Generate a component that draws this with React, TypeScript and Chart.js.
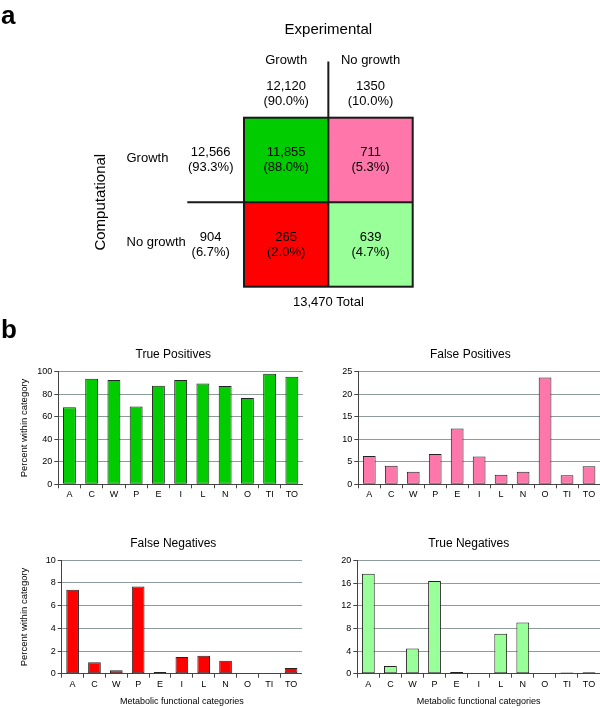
import React, { useEffect, useRef } from 'react';
import { Chart, registerables } from 'chart.js';

Chart.register(...registerables);

const FONT = '"Liberation Sans", Arial, Helvetica, sans-serif';
Chart.defaults.font.family = FONT;

// ---------- Panel a data ----------
const EXPERIMENTAL_COLS = ['Growth', 'No growth'];
const COMPUTATIONAL_ROWS = ['Growth', 'No growth'];
const COL_TOTALS = ['12,120', '1350'];
const COL_PCTS = ['(90.0%)', '(10.0%)'];
const ROW_TOTALS = ['12,566', '904'];
const ROW_PCTS = ['(93.3%)', '(6.7%)'];
const GROWTH_ROW_CELLS = ['11,855', '711'];
const GROWTH_ROW_PCTS = ['(88.0%)', '(5.3%)'];
const NOGROWTH_ROW_CELLS = ['265', '639'];
const NOGROWTH_ROW_PCTS = ['(2.0%)', '(4.7%)'];
const TOTAL_LABEL = '13,470 Total';

// ---------- Panel b data ----------
const CATEGORIES = ['A', 'C', 'W', 'P', 'E', 'I', 'L', 'N', 'O', 'TI', 'TO'];
const TRUE_POSITIVES = [68.5, 93.8, 92.6, 69.2, 87.6, 92.6, 89.6, 87.3, 76.6, 98.2, 95.6];
const FALSE_POSITIVES = [6.3, 4.1, 2.8, 6.7, 12.4, 6.2, 2.1, 2.8, 23.7, 2.0, 4.0];
const FALSE_NEGATIVES = [7.4, 1.0, 0.3, 7.7, 0.15, 1.47, 1.59, 1.15, 0, 0, 0.5];
const TRUE_NEGATIVES = [17.7, 1.36, 4.48, 16.4, 0.3, 0, 7.08, 9.08, 0, 0.2, 0.25];

const TP_AXIS = { max: 100, step: 20 };
const FP_AXIS = { max: 25, step: 5 };
const FN_AXIS = { max: 10, step: 2 };
const TN_AXIS = { max: 20, step: 4 };

const GREEN = '#00cc00';
const PINK = '#ff77aa';
const RED = '#ff0000';
const LIGHT_GREEN = '#99ff99';

const matrixPlugin = {
  id: 'matrixText',
  afterDatasetsDraw(chart: any) {
    const { ctx, chartArea: a } = chart;
    const bottomMeta = chart.getDatasetMeta(0);
    const topMeta = chart.getDatasetMeta(1);
    const colX: number[] = topMeta.data.map((b: any) => b.x);
    const rowY: number[] = [
      (topMeta.data[0].y + topMeta.data[0].base) / 2,
      (bottomMeta.data[0].y + bottomMeta.data[0].base) / 2,
    ];
    const midX = (a.left + a.right) / 2;
    const midY = chart.scales.y.getPixelForValue(1);

    ctx.save();
    ctx.strokeStyle = '#1a1a1a';
    ctx.lineWidth = 2;
    ctx.strokeRect(a.left, a.top, a.right - a.left, a.bottom - a.top);
    ctx.beginPath();
    ctx.moveTo(midX, 61.5);
    ctx.lineTo(midX, a.bottom);
    ctx.moveTo(187.3, midY);
    ctx.lineTo(a.right, midY);
    ctx.stroke();

    ctx.fillStyle = '#000';
    ctx.textBaseline = 'middle';
    ctx.textAlign = 'center';
    ctx.font = `15px ${FONT}`;
    ctx.fillText('Experimental', midX, 30);

    ctx.font = `13px ${FONT}`;
    EXPERIMENTAL_COLS.forEach((c, i) => {
      ctx.fillText(c, colX[i], 60.5);
      ctx.fillText(COL_TOTALS[i], colX[i], 86.7);
      ctx.fillText(COL_PCTS[i], colX[i], 101.7);
    });

    const cells = [GROWTH_ROW_CELLS, NOGROWTH_ROW_CELLS];
    const pcts = [GROWTH_ROW_PCTS, NOGROWTH_ROW_PCTS];
    COMPUTATIONAL_ROWS.forEach((r, ri) => {
      const y = rowY[ri];
      ctx.textAlign = 'left';
      ctx.fillText(r, 126.5, y - 1.8);
      ctx.textAlign = 'center';
      ctx.fillText(ROW_TOTALS[ri], 210.7, y - 7.5);
      ctx.fillText(ROW_PCTS[ri], 210.7, y + 7.5);
      colX.forEach((x, ci) => {
        ctx.fillText(cells[ri][ci], x, y - 7.5);
        ctx.fillText(pcts[ri][ci], x, y + 7.5);
      });
    });

    ctx.fillText(TOTAL_LABEL, midX, 302.7);

    ctx.save();
    ctx.font = `15px ${FONT}`;
    ctx.translate(100.7, (a.top + a.bottom) / 2);
    ctx.rotate(-Math.PI / 2);
    ctx.fillText('Computational', 0, 0);
    ctx.restore();

    ctx.textAlign = 'left';
    ctx.textBaseline = 'alphabetic';
    ctx.font = `bold 26px ${FONT}`;
    ctx.fillText('a', 1, 24);
    ctx.fillText('b', 1, 338.3);
    ctx.restore();
  },
};

const panelTitlePlugin = {
  id: 'panelTitle',
  afterDraw(chart: any, _args: any, opts: any) {
    if (!opts || !opts.text) return;
    const ctx = chart.ctx;
    ctx.save();
    ctx.font = `12px ${FONT}`;
    ctx.fillStyle = '#000';
    ctx.textAlign = 'center';
    ctx.textBaseline = 'middle';
    ctx.fillText(opts.text, opts.x, opts.y);
    ctx.restore();
  },
};

const MATRIX_H = 345;
const matrixConfig: any = {
  type: 'bar',
  data: {
    labels: EXPERIMENTAL_COLS,
    datasets: [
      { label: 'Computational no growth', data: [1, 1], backgroundColor: [RED, LIGHT_GREEN], borderWidth: 0 },
      { label: 'Computational growth', data: [1, 1], backgroundColor: [GREEN, PINK], borderWidth: 0 },
    ],
  },
  options: {
    responsive: false,
    animation: false,
    events: [],
    layout: { padding: { left: 244, right: 600 - 412.7, top: 117.7, bottom: MATRIX_H - 286.7 } },
    datasets: { bar: { barPercentage: 1, categoryPercentage: 1 } },
    scales: {
      x: { display: false, stacked: true },
      y: { display: false, stacked: true, min: 0, max: 2 },
    },
    plugins: { legend: { display: false }, tooltip: { enabled: false } },
  },
  plugins: [matrixPlugin],
};

function barConfig(o: any): any {
  return {
    type: 'bar',
    data: {
      labels: CATEGORIES,
      datasets: [
        {
          data: o.values,
          backgroundColor: o.color,
          borderColor: '#222',
          borderWidth: 1,
          borderSkipped: false,
          barPercentage: 0.58,
          categoryPercentage: 1,
        },
      ],
    },
    options: {
      responsive: false,
      animation: false,
      events: [],
      layout: { padding: { top: o.padTop, right: 0, left: 0, bottom: 0 } },
      plugins: {
        legend: { display: false },
        tooltip: { enabled: false },
        panelTitle: { text: o.title, x: o.titleX, y: o.titleY },
      },
      scales: {
        x: {
          grid: { display: true, drawOnChartArea: false, offset: true, tickLength: 4, tickColor: '#444', tickWidth: 1 },
          border: { color: '#444', width: 1, z: 1 },
          ticks: { color: '#000', font: { size: 9, family: FONT }, padding: 1, maxRotation: 0, autoSkip: false },
          title: o.xTitle
            ? { display: true, text: o.xTitle, color: '#000', font: { size: 9, family: FONT }, padding: { top: 0, bottom: 1 } }
            : { display: false },
          afterFit: (s: any) => {
            s.height = o.xHeight;
          },
        },
        y: {
          min: 0,
          max: o.axis.max,
          ticks: { stepSize: o.axis.step, color: '#000', font: { size: 9, family: FONT }, padding: 2 },
          grid: { color: '#8d9b9b', tickColor: '#444', tickLength: 4, lineWidth: 1 },
          border: { color: '#444', width: 1, z: 1 },
          title: o.yTitle
            ? { display: true, text: o.yTitle, color: '#000', font: { size: 9.5, family: FONT }, padding: { top: 18.6, bottom: 0 } }
            : { display: false },
          afterFit: (s: any) => {
            s.width = o.yWidth;
          },
        },
      },
    },
    plugins: [panelTitlePlugin],
  };
}

const charts = [
  {
    key: 'tp', left: 0, top: 340, width: 303, height: 168,
    config: barConfig({ values: TRUE_POSITIVES, color: GREEN, axis: TP_AXIS, title: 'True Positives', titleX: 173.3, titleY: 14.3, padTop: 31.7, xHeight: 23.7, yWidth: 58.3, yTitle: 'Percent within category' }),
  },
  {
    key: 'fp', left: 320, top: 340, width: 280, height: 168,
    config: barConfig({ values: FALSE_POSITIVES, color: PINK, axis: FP_AXIS, title: 'False Positives', titleX: 150.3, titleY: 14.3, padTop: 31.7, xHeight: 23.7, yWidth: 38.3 }),
  },
  {
    key: 'fn', left: 0, top: 520, width: 302, height: 188,
    config: barConfig({ values: FALSE_NEGATIVES, color: RED, axis: FN_AXIS, title: 'False Negatives', titleX: 173.3, titleY: 23.3, padTop: 40.3, xHeight: 34.3, yWidth: 61.7, yTitle: 'Percent within category', xTitle: 'Metabolic functional categories' }),
  },
  {
    key: 'tn', left: 320, top: 520, width: 280, height: 188,
    config: barConfig({ values: TRUE_NEGATIVES, color: LIGHT_GREEN, axis: TN_AXIS, title: 'True Negatives', titleX: 148.8, titleY: 23.3, padTop: 40.7, xHeight: 34.3, yWidth: 37.3, xTitle: 'Metabolic functional categories' }),
  },
];

function ChartCanvas({ config, left, top, width, height }: any) {
  const ref = useRef<HTMLCanvasElement>(null);
  useEffect(() => {
    const chart = new Chart(ref.current as HTMLCanvasElement, config);
    return () => chart.destroy();
  }, []);
  return (
    <canvas
      ref={ref}
      width={width}
      height={height}
      style={{ position: 'absolute', left, top, width, height }}
    />
  );
}

export default function App() {
  return (
    <div style={{ position: 'absolute', left: 0, top: 0, width: 600, height: 708, background: '#fff', overflow: 'hidden' }}>
      <ChartCanvas config={matrixConfig} left={0} top={0} width={600} height={MATRIX_H} />
      {charts.map((c) => (
        <ChartCanvas key={c.key} config={c.config} left={c.left} top={c.top} width={c.width} height={c.height} />
      ))}
    </div>
  );
}
